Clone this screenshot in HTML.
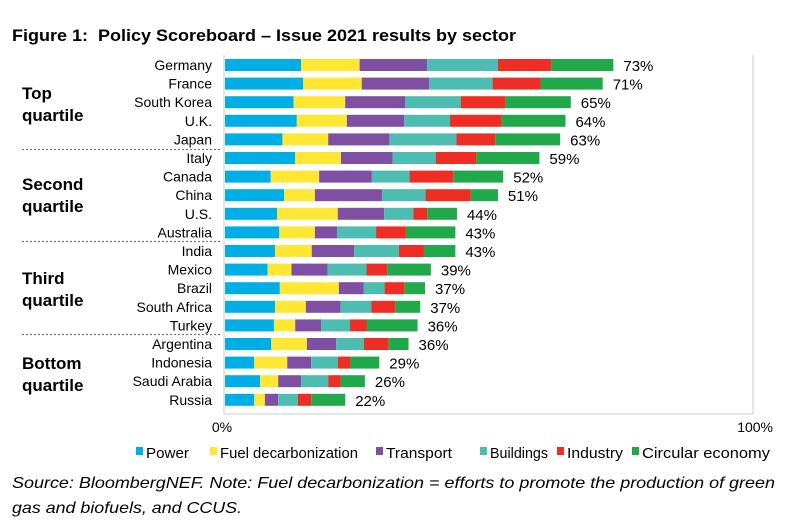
<!DOCTYPE html>
<html><head><meta charset="utf-8"><style>
body{margin:0;background:#fff;width:791px;height:527px;overflow:hidden;font-family:"Liberation Sans",Arial,sans-serif}
svg text{font-family:"Liberation Sans",Arial,sans-serif}
</style></head><body>
<svg id="c" width="791" height="527">
<text x="12" y="41" font-size="17" font-weight="bold" fill="#000" textLength="504" lengthAdjust="spacingAndGlyphs" xml:space="preserve">Figure 1:  Policy Scoreboard – Issue 2021 results by sector</text>
<g id="frame">
<line x1="224" y1="55" x2="224" y2="414" stroke="#ccc"/>
<line x1="224" y1="414" x2="753" y2="414" stroke="#ccc"/>
<line x1="753" y1="55" x2="753" y2="414" stroke="#ccc"/>
</g>
<g id="quart" font-size="17" font-weight="bold">
<text x="22" y="99">Top</text><text x="22" y="121">quartile</text>
<text x="22" y="190">Second</text><text x="22" y="212">quartile</text>
<text x="22" y="284">Third</text><text x="22" y="306">quartile</text>
<text x="22" y="369">Bottom</text><text x="22" y="391">quartile</text>
</g>
<g stroke="#777" stroke-dasharray="2,2" stroke-width="1.3">
<line x1="22" y1="149.5" x2="220" y2="149.5"/>
<line x1="22" y1="241.5" x2="220" y2="241.5"/>
<line x1="22" y1="334.5" x2="220" y2="334.5"/>
</g>
<g id="bars"></g>
<text x="222" y="432" font-size="14" text-anchor="middle">0%</text>
<text x="773" y="432" font-size="14" text-anchor="end">100%</text>
<g id="legend"></g>
<text x="12" y="488" font-size="16" font-style="italic" textLength="763" lengthAdjust="spacingAndGlyphs">Source: BloombergNEF. Note: Fuel decarbonization = efforts to promote the production of green</text>
<text x="12" y="513" font-size="16" font-style="italic" textLength="230" lengthAdjust="spacingAndGlyphs">gas and biofuels, and CCUS.</text>
</svg>
<script>
const countries=["Germany","France","South Korea","U.K.","Japan","Italy","Canada","China","U.S.","Australia","India","Mexico","Brazil","South Africa","Turkey","Argentina","Indonesia","Saudi Arabia","Russia"];
const totals=[73,71,65,64,63,59,52,51,44,43,43,39,37,37,36,36,29,26,22];
const power=[14.3,14.7,12.9,13.5,10.8,13.2,8.6,11.1,9.8,10.2,9.4,8,10.3,9.4,9.2,8.7,5.5,6.6,5.5];
const fuel=[11,11,9.7,9.4,8.6,8.6,9.1,5.8,11.4,6.7,6.9,4.5,11.1,5.8,4,6.7,6.2,3.4,2];
const transport=[12.7,12.7,11.3,10.8,11.5,9.7,9.9,12.6,8.7,4.2,8,6.8,4.7,6.5,4.9,5.5,4.5,4.3,2.5];
const buildings=[13.3,11.9,10.4,8.6,12.6,8.1,7.1,8.2,5.5,7.3,8.4,7.3,3.9,5.8,5.4,5.2,5,5.1,3.7];
const industry=[10,9,8.4,9.7,7.3,7.6,8.2,8.5,2.6,5.6,4.7,3.9,3.7,4.5,3.1,4.6,2.3,2.3,2.5];
const circular=[11.7,11.7,12.3,12,12.2,11.9,9.4,5.1,5.6,9.3,5.9,8.2,3.9,4.7,9.6,3.8,5.5,4.6,6.4];
const seriesNames=["Power","Fuel decarbonization","Transport","Buildings","Industry","Circular economy"];
const colors=["#00aee6","#ffe733","#7e4fa3","#4cbdb0","#ee2e24","#20a84a"];
const series=[power,fuel,transport,buildings,industry,circular];
const NS="http://www.w3.org/2000/svg";
const x0=225,pxPer=5.32,y0=59,pitch=18.6,bh=12;
const xs=v=>x0+v*pxPer;
const ys=i=>y0+i*pitch;
const g=document.getElementById('bars');
countries.forEach((c,i)=>{
  const t=document.createElementNS(NS,'text');
  t.setAttribute('x',212);t.setAttribute('y',ys(i)+11);t.setAttribute('font-size','14');t.setAttribute('text-anchor','end');
  t.textContent=c;
  
  
  g.appendChild(t);
  let cum=0;
  series.forEach((s,k)=>{
    const r=document.createElementNS(NS,'rect');
    r.setAttribute('x',xs(cum));r.setAttribute('y',ys(i));
    r.setAttribute('width',s[i]*pxPer);r.setAttribute('height',bh);r.setAttribute('fill',colors[k]);
    
    
    g.appendChild(r);
    cum+=s[i];
  });
  const v=document.createElementNS(NS,'text');
  v.setAttribute('x',xs(cum)+10);v.setAttribute('y',ys(i)+12);v.setAttribute('font-size','15');
  v.textContent=totals[i]+'%';
  
  
  g.appendChild(v);
});
const lg=document.getElementById('legend');
const lx=[136,210,376,480,557,632];
const lw=[43,138,66,58,56,128];
seriesNames.forEach((n,k)=>{
  const r=document.createElementNS(NS,'rect');
  r.setAttribute('x',lx[k]);r.setAttribute('y',447);r.setAttribute('width',7);r.setAttribute('height',8);r.setAttribute('fill',colors[k]);
  
  
  lg.appendChild(r);
  const t=document.createElementNS(NS,'text');
  t.setAttribute('x',lx[k]+10);t.setAttribute('y',458);t.setAttribute('font-size','15');
  t.setAttribute('textLength',lw[k]);t.setAttribute('lengthAdjust','spacingAndGlyphs');
  t.textContent=n;
  
  
  lg.appendChild(t);
});
</script>
</body></html>
